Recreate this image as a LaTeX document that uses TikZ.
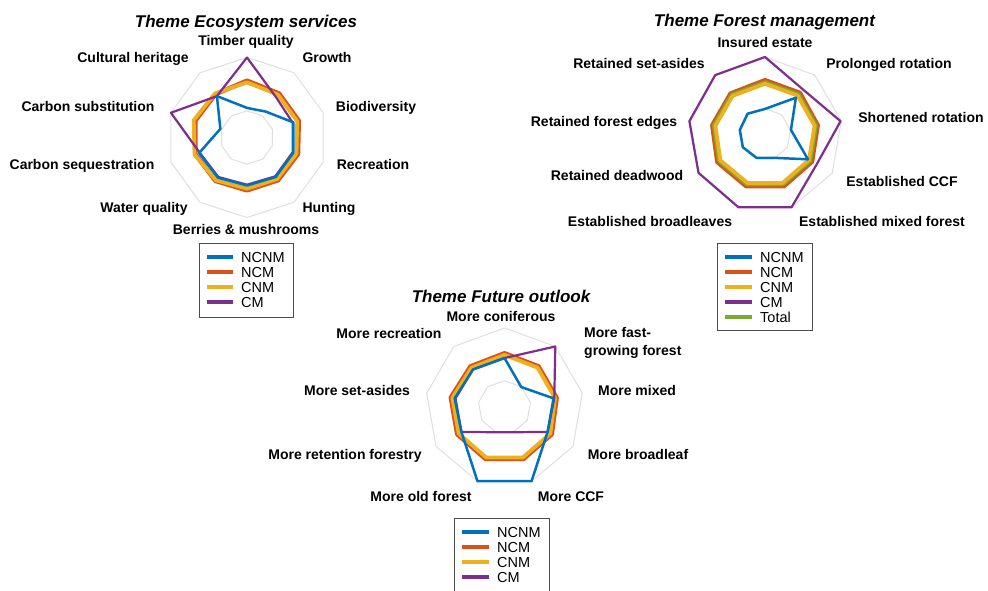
\documentclass[tikz,border=0pt]{standalone}
\usepackage{fontspec}
\setmainfont{Liberation Sans}
\usetikzlibrary{calc}

\definecolor{cNCNM}{rgb}{0,0.447,0.741}
\definecolor{cNCM}{rgb}{0.85,0.325,0.098}
\definecolor{cCNM}{rgb}{0.929,0.694,0.125}
\definecolor{cCM}{rgb}{0.494,0.184,0.556}
\definecolor{cTotal}{rgb}{0.466,0.674,0.188}

\tikzset{
  webline/.style={draw=gray!25, line width=1pt},
  ncnmline/.style={draw=cNCNM, line width=2.5pt, line join=round},
  ncmline/.style={draw=cNCM, line width=4.5pt, line join=round},
  cnmline/.style={draw=cCNM, line width=3.8pt, line join=round},
  cmline/.style={draw=cCM, line width=2.2pt, line join=round},
  totalline/.style={draw=cTotal, line width=3.8pt, line join=round},
  axlbl/.style={font=\bfseries\fontsize{14}{18}\selectfont, inner sep=0pt, anchor=base},
  ttl/.style={font=\bfseries\itshape\fontsize{17}{20}\selectfont, inner sep=0pt, anchor=base},
  legbox/.style={draw=black!70, line width=1pt},
  legtxt/.style={font=\fontsize{14.5}{16}\selectfont, inner sep=0pt, anchor=base west},
}

% web of rings round a centre: #1 centre, #2 axes, #3 radius
\newcommand{\radarweb}[3]{%
  \pgfmathtruncatemacro{\lastax}{#2-1}
  \foreach \lv in {0.3333,0.6667,1} {
    \draw[webline] ($(#1)+(-90:{\lv*#3})$)
      \foreach \k in {1,...,\lastax} { -- ($(#1)+({-90+\k*360/#2}:{\lv*#3})$) } -- cycle;
  }
}
% one data line: #1 centre, #2 axes, #3 radius, #4 style, #5 values
\newcommand{\radarline}[5]{%
  \foreach \v [count=\k from 0] in {#5}
    \coordinate (rp\k) at ($(#1)+({-90+\k*360/#2}:{\v*#3})$);
  \pgfmathtruncatemacro{\lastax}{#2-1}
  \draw[#4] (rp0) \foreach \k in {1,...,\lastax} { -- (rp\k) } -- cycle;
}

\begin{document}
\begin{tikzpicture}[x=1pt,y=-1pt]
  \useasboundingbox[fill=white] (0,0) rectangle (988,590);

  \coordinate (cES) at (247,137.5);
  \coordinate (cFM) at (765,134.5);
  \coordinate (cFO) at (504.5,407);

  %% Theme Ecosystem services
  \radarweb{cES}{10}{80}
  \radarline{cES}{10}{80}{ncmline}{0.71,0.68,0.68,0.67,0.66,0.66,0.67,0.68,0.68,0.67}
  \radarline{cES}{10}{80}{cnmline}{0.69,0.66,0.66,0.65,0.64,0.64,0.66,0.69,0.70,0.68}
  \radarline{cES}{10}{80}{cmline}{1,0.62,0.60,0.60,0.60,0.59,0.61,0.62,1,0.64}
  \radarline{cES}{10}{80}{ncnmline}{0.37,0.40,0.61,0.61,0.61,0.60,0.62,0.63,0.35,0.64}

  \node[ttl] (ttlES) at (246,27) {Theme Ecosystem services};
  \node[axlbl] (esTimber) at (246,45) {Timber quality};
  \node[axlbl] (esGrowth) at (327,62) {Growth};
  \node[axlbl] (esBiodiv) at (376,111) {Biodiversity};
  \node[axlbl] (esRecr) at (373,169) {Recreation};
  \node[axlbl] (esHunt) at (329,212) {Hunting};
  \node[axlbl] (esBerry) at (246,234) {Berries \& mushrooms};
  \node[axlbl] (esWater) at (144,212) {Water quality};
  \node[axlbl] (esCseq) at (82,169) {Carbon sequestration};
  \node[axlbl] (esCsub) at (88,111) {Carbon substitution};
  \node[axlbl] (esCult) at (133,62) {Cultural heritage};

  \draw[legbox] (199,243) rectangle (293,317);
  \foreach \nm/\sty [count=\j from 0] in {NCNM/ncnmline,NCM/ncmline,CNM/cnmline,CM/cmline} {
    \draw[\sty, line width=3.2pt] (207,{257+15*\j}) -- (233,{257+15*\j});
    \node[legtxt] (legES\j) at (241,{262.5+15*\j}) {\nm};
  }

  %% Theme Forest management
  \radarweb{cFM}{9}{77.5}
  \radarline{cFM}{9}{77.5}{ncmline}{0.70,0.70,0.69,0.70,0.71,0.71,0.71,0.69,0.69}
  \radarline{cFM}{9}{77.5}{totalline}{0.675,0.675,0.67,0.675,0.685,0.685,0.685,0.67,0.67}
  \radarline{cFM}{9}{77.5}{cnmline}{0.655,0.655,0.65,0.655,0.665,0.665,0.665,0.65,0.65}
  \radarline{cFM}{9}{77.5}{cmline}{1,0.76,0.99,0.77,1,1,0.99,0.99,1}
  \radarline{cFM}{9}{77.5}{ncnmline}{0.33,0.62,0.34,0.64,0.32,0.32,0.33,0.33,0.35}

  \node[ttl] (ttlFM) at (764.5,26) {Theme Forest management};
  \node[axlbl] (fmInsured) at (765,47) {Insured estate};
  \node[axlbl] (fmProl) at (889,68) {Prolonged rotation};
  \node[axlbl] (fmShort) at (921,122) {Shortened rotation};
  \node[axlbl] (fmCCF) at (902,186) {Established CCF};
  \node[axlbl] (fmMixed) at (882,226) {Established mixed forest};
  \node[axlbl] (fmBroad) at (650,226) {Established broadleaves};
  \node[axlbl] (fmDead) at (617,180) {Retained deadwood};
  \node[axlbl] (fmEdges) at (604,126) {Retained forest edges};
  \node[axlbl] (fmSetas) at (639,68) {Retained set-asides};

  \draw[legbox] (717,243) rectangle (812,330);
  \foreach \nm/\sty [count=\j from 0] in {NCNM/ncnmline,NCM/ncmline,CNM/cnmline,CM/cmline,Total/totalline} {
    \draw[\sty, line width=3.2pt] (725,{257+15*\j}) -- (752,{257+15*\j});
    \node[legtxt] (legFM\j) at (760,{262.5+15*\j}) {\nm};
  }

  %% Theme Future outlook
  \radarweb{cFO}{9}{79}
  \radarline{cFO}{9}{79}{ncmline}{0.68,0.67,0.67,0.69,0.70,0.70,0.69,0.69,0.67}
  \radarline{cFO}{9}{79}{cnmline}{0.66,0.65,0.65,0.67,0.68,0.68,0.67,0.67,0.65}
  \radarline{cFO}{9}{79}{cmline}{0.62,1,0.64,0.63,0.34,0.34,0.63,0.63,0.62}
  \radarline{cFO}{9}{79}{ncnmline}{0.62,0.33,0.63,0.63,1,1,0.63,0.64,0.62}

  \node[ttl] (ttlFO) at (501,302) {Theme Future outlook};
  \node[axlbl] (foConif) at (501,321) {More coniferous};
  \node[axlbl, anchor=north west, align=left] (foFast) at (584,327) {More fast-\\growing forest};
  \node[axlbl] (foMixed) at (637,395) {More mixed};
  \node[axlbl] (foBroad) at (638,459) {More broadleaf};
  \node[axlbl] (foCCF) at (571,501) {More CCF};
  \node[axlbl] (foOld) at (421,501) {More old forest};
  \node[axlbl] (foRet) at (345,459) {More retention forestry};
  \node[axlbl] (foSetas) at (357,395) {More set-asides};
  \node[axlbl] (foRecr) at (389,338) {More recreation};

  \draw[legbox] (454,518) rectangle (549,600);
  \foreach \nm/\sty [count=\j from 0] in {NCNM/ncnmline,NCM/ncmline,CNM/cnmline,CM/cmline} {
    \draw[\sty, line width=3.2pt] (462,{532+15*\j}) -- (489,{532+15*\j});
    \node[legtxt] (legFO\j) at (497,{537.5+15*\j}) {\nm};
  }
\end{tikzpicture}
\end{document}
